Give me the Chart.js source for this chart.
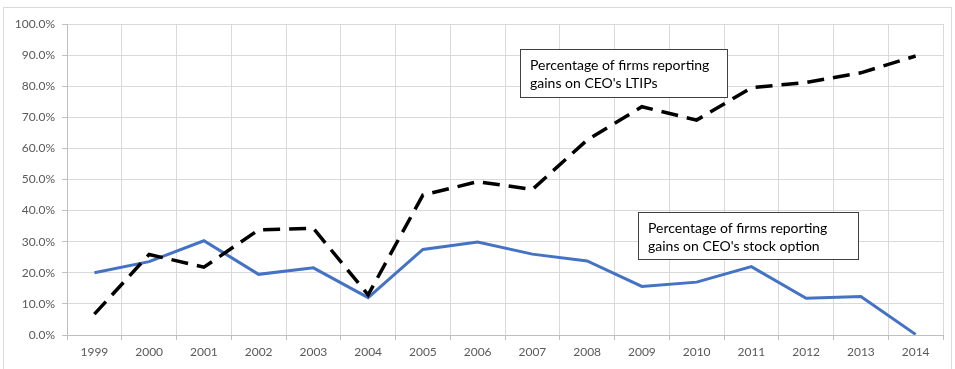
<!DOCTYPE html>
<html>
<head>
<meta charset="utf-8">
<script src="https://cdn.jsdelivr.net/npm/chart.js@4.4.1/dist/chart.umd.min.js"></script>
<style>
  html, body { margin: 0; padding: 0; background: #fff; }
  #wrap { position: relative; width: 955px; height: 369px; }
  #frame { position: absolute; left: 3px; top: 7px; width: 949px; height: 370px; border: 1px solid #d9d9d9; box-sizing: border-box; pointer-events: none; }
</style>
</head>
<body>
<div id="wrap">
  <canvas id="myChart" width="955" height="369"></canvas>
  <div id="frame"></div>
</div>
<script>
'use strict';

// years on the x axis
let years = ['1999', '2000', '2001', '2002', '2003', '2004', '2005', '2006',
  '2007', '2008', '2009', '2010', '2011', '2012', '2013', '2014'];

// % of firms reporting gains on CEO's stock option (blue)
let stockOption = [20.0, 23.6, 30.3, 19.5, 21.6, 12.0, 27.5, 29.9,
  26.0, 23.8, 15.6, 17.0, 22.0, 11.8, 12.4, 0.2];

// % of firms reporting gains on CEO's LTIPs (black dashed)
let ltips = [6.7, 25.9, 21.8, 33.8, 34.3, 12.9, 45.0, 49.3,
  46.8, 62.7, 73.4, 69.1, 79.5, 81.2, 84.3, 89.7];

let yTicks = [0, 10, 20, 30, 40, 50, 60, 70, 80, 90, 100];

let boxNotes = [
  { lines: ['Percentage of firms reporting', 'gains on CEO\'s LTIPs'], x: 520, y: 49, w: 207, h: 48 },
  { lines: ['Percentage of firms reporting', 'gains on CEO\'s stock option'], x: 638, y: 212, w: 220, h: 47 }
];

// draws the two text boxes on top of the lines
const notePlugin = {
  id: 'notes',
  afterDatasetsDraw(chart) {
    let ctx = chart.ctx;
    ctx.save();
    for (let i = 0; i < boxNotes.length; i++) {
      let b = boxNotes[i];
      ctx.fillStyle = '#fff';
      ctx.fillRect(b.x, b.y, b.w, b.h);
      ctx.strokeStyle = '#404040';
      ctx.lineWidth = 1;
      ctx.strokeRect(b.x + 0.5, b.y + 0.5, b.w, b.h);
      ctx.fillStyle = '#000';
      ctx.font = '14px Lato, "Open Sans", sans-serif';
      ctx.textBaseline = 'middle';
      for (let j = 0; j < b.lines.length; j++) {
        ctx.fillText(b.lines[j], b.x + 10, b.y + 16 + j * 18);
      }
    }
    ctx.restore();
  }
};

const data = {
  labels: years,
  datasets: [
    {
      label: 'Percentage of firms reporting gains on CEO\'s LTIPs',
      data: ltips,
      borderColor: '#000000',
      borderWidth: 3.5,
      borderDash: [17, 9],
      pointRadius: 0,
      tension: 0,
      fill: false
    },
    {
      label: 'Percentage of firms reporting gains on CEO\'s stock option',
      data: stockOption,
      borderColor: '#4472C4',
      borderWidth: 3,
      pointRadius: 0,
      tension: 0,
      fill: false
    }
  ]
};

const config = {
  type: 'line',
  data: data,
  options: {
    responsive: false,
    animation: false,
    layout: { padding: { left: 0, top: 24, right: 12, bottom: 0 } },
    plugins: {
      legend: { display: false },
      tooltip: { enabled: false }
    },
    scales: {
      x: {
        offset: true,
        grid: { offset: true, color: '#d9d9d9', tickLength: 5, tickColor: '#bfbfbf' },
        border: { color: '#bfbfbf' },
        ticks: {
          color: '#595959',
          font: { family: 'Lato, "Open Sans", sans-serif', size: 12 },
          padding: 5,
          maxRotation: 0,
          autoSkip: false
        },
        afterFit(scale) { scale.height = 34; }
      },
      y: {
        min: 0,
        max: 100,
        afterBuildTicks(scale) { scale.ticks = yTicks.map(v => ({ value: v })); },
        grid: { color: '#d9d9d9', tickLength: 5, tickColor: '#bfbfbf' },
        border: { color: '#bfbfbf' },
        ticks: {
          color: '#595959',
          font: { family: 'Lato, "Open Sans", sans-serif', size: 12 },
          padding: 7,
          callback: v => v.toFixed(1) + '%'
        },
        afterFit(scale) { scale.width = 67; }
      }
    }
  },
  plugins: [notePlugin]
};

const myChart = new Chart(document.getElementById('myChart'), config);
</script>
</body>
</html>
